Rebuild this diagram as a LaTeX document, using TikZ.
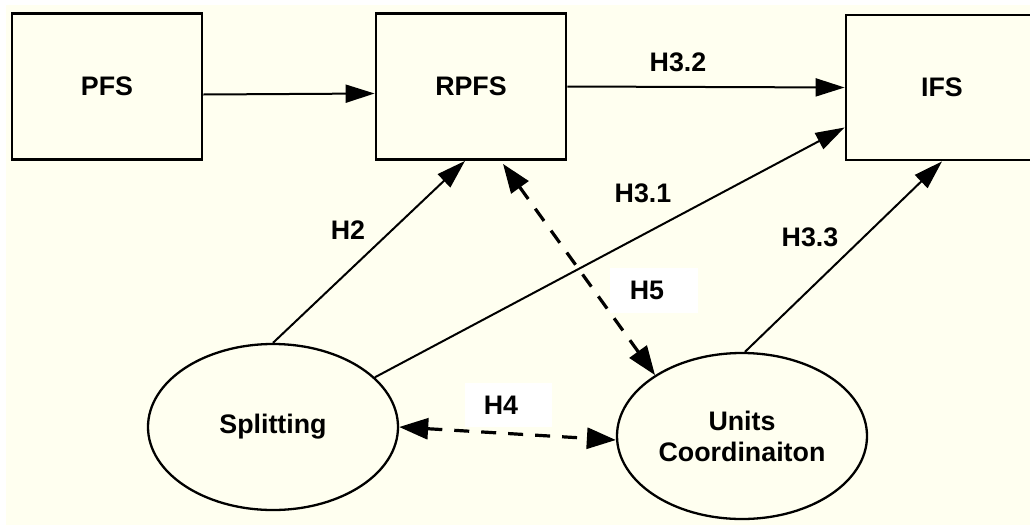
\documentclass[tikz,border=0pt]{standalone}
\usepackage{fontspec}
\setmainfont{Liberation Sans}
\usetikzlibrary{arrows.meta,shapes.geometric}
\definecolor{bg}{HTML}{FFFFF0}
\begin{document}
\begin{tikzpicture}[x=1pt,y=-1pt,
  every node/.style={font=\fontsize{26.8}{31}\selectfont\bfseries},
  box/.style={draw, line width=2.8pt, fill=bg, minimum width=190pt, minimum height=146pt, inner sep=0pt},
  oval/.style={ellipse, draw, line width=2.3pt, fill=bg, minimum width=250pt, minimum height=166pt, inner sep=0pt, align=center},
  conn/.style={line width=2pt, -{Triangle[length=29pt,width=18pt]}},
  dconn/.style={line width=3.2pt, dash pattern=on 15pt off 12pt, {Triangle[length=29pt,width=21pt]}-{Triangle[length=29pt,width=21pt]}},
  lab/.style={inner sep=0pt},
  wlab/.style={fill=white, minimum width=88pt, minimum height=45pt, inner sep=0pt}]
\useasboundingbox (0,0) rectangle (1030,525);
\fill[white] (0,0) rectangle (1030,525);
\fill[bg] (6,5) rectangle (1030,525);

\node[box] (PFS) at (107,86.5) {PFS};
\node[box] (RPFS) at (471,86.5) {RPFS};
\node[box, minimum width=192pt, minimum height=145pt] (IFS) at (942,87.5) {IFS};
\node[oval] (Spl) at (273,427) {Splitting};
\node[oval] (UC) at (742,436) {Units\\Coordinaiton};

\draw[conn] ([yshift=-8pt]PFS.east) -- ([yshift=-7pt]RPFS.west);
\draw[conn] (RPFS.east) -- (IFS.west);
\draw[conn] (Spl.north) -- ([xshift=-6pt]RPFS.south);
\draw[conn] (Spl.26) -- ([yshift=-40pt]IFS.west);
\draw[conn] (UC.88) -- (IFS.south);
\draw[dconn] ([xshift=32pt,yshift=-3pt]RPFS.south) -- (UC.145);
\draw[dconn] (Spl.east) -- ([yshift=-4pt]UC.west);

\node[lab] (l32) at (678,62) {H3.2};
\node[lab] (l2) at (348,230) {H2};
\node[lab] (l31) at (643,193) {H3.1};
\node[lab] (l33) at (810,237) {H3.3};
\node[wlab] (l5) at (654,290.5) {H5\kern14pt\relax};
\node[wlab, minimum width=87pt, minimum height=44pt] (l4) at (508.5,405) {H4\kern15pt\relax};
\end{tikzpicture}
\end{document}
